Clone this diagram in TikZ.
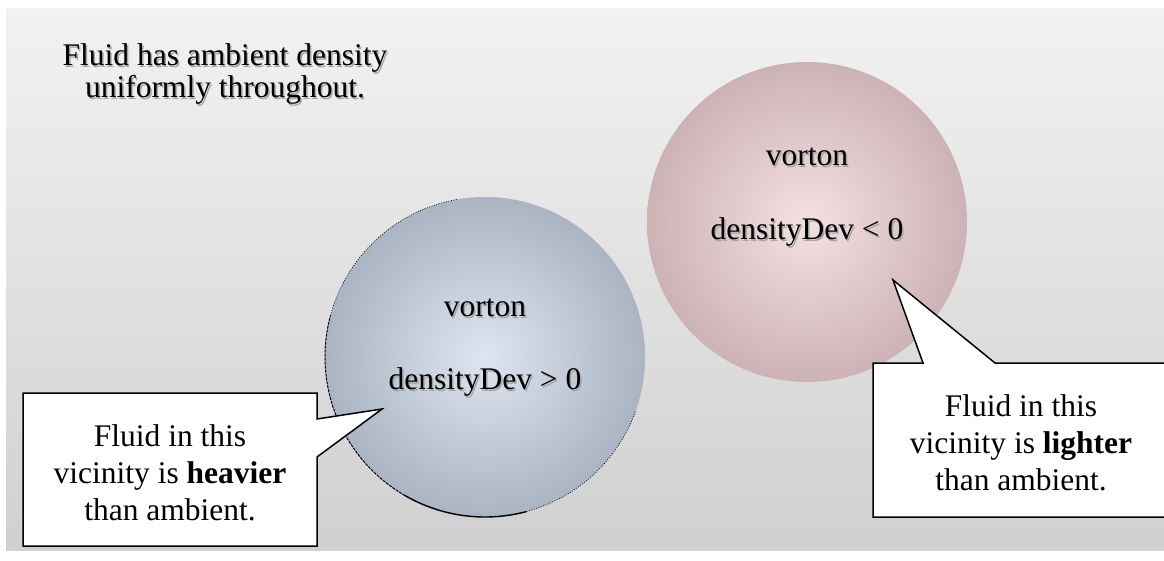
\documentclass[tikz,border=0pt]{standalone}
\usepackage{fontspec}
\setmainfont{LiberationSerif}[Extension=.ttf, UprightFont=*-Regular, BoldFont=*-Bold, ItalicFont=*-Italic, BoldItalicFont=*-BoldItalic]
\definecolor{bgtop}{RGB}{242,242,242}
\definecolor{bgbot}{RGB}{208,208,208}
\definecolor{blueIn}{RGB}{221,229,240}
\definecolor{blueOut}{RGB}{170,180,194}
\definecolor{pinkIn}{RGB}{244,224,226}
\definecolor{pinkOut}{RGB}{204,178,181}
\definecolor{shadowgray}{RGB}{165,165,165}
\begin{document}
\begin{tikzpicture}[x=1pt,y=-1pt,
  txt/.style={font=\fontsize{31.5}{37}\selectfont, inner sep=0pt, align=center},
  ttxt/.style={font=\fontsize{31.5}{32}\selectfont, inner sep=0pt, align=center},
  shadowtxt/.style={txt, text=shadowgray},
  tshadowtxt/.style={ttxt, text=shadowgray},
  vortex/.style={circle, minimum size=320pt, inner sep=0pt},
  callout/.style={draw=black, fill=white, line width=1.5pt, line join=miter}]
\useasboundingbox (0,0) rectangle (1164,560);
\shade[top color=bgtop, bottom color=bgbot] (6,8) rectangle (1164,550);
% title
\node[tshadowtxt] (titles) at (226.5,75.5) {Fluid has ambient density\\uniformly throughout.};
\node[ttxt] (title) at (225,74) {Fluid has ambient density\\uniformly throughout.};
% vortons
\node[vortex, inner color=blueIn, outer color=blueOut] (heavy) at (485,357) {};
\draw[black, line width=1.4pt] (heavy.center) ++(75:160) arc[start angle=75, end angle=120, radius=160];
\draw[black, line width=1pt, dash pattern=on 3pt off 1pt] (heavy.center) ++(120:160) arc[start angle=120, end angle=195, radius=160];
\draw[black, line width=0.6pt, dash pattern=on 1pt off 1.5pt] (heavy.center) ++(195:160) arc[start angle=195, end angle=260, radius=160];
\draw[black, line width=0.6pt, dash pattern=on 1pt off 1.5pt] (heavy.center) ++(20:160) arc[start angle=20, end angle=75, radius=160];
\node[vortex, inner color=pinkIn, outer color=pinkOut] (light) at (807,222) {};
\node[shadowtxt] (hv1s) at (486.5,309.5) {vorton};
\node[txt] (hv1) at (485,308) {vorton};
\node[shadowtxt] (hv2s) at (486.5,383.5) {densityDev > 0};
\node[txt] (hv2) at (485,382) {densityDev > 0};
\node[shadowtxt] (lv1s) at (808.5,158.5) {vorton};
\node[txt] (lv1) at (807,157) {vorton};
\node[shadowtxt] (lv2s) at (808.5,233.5) {densityDev < 0};
\node[txt] (lv2) at (807,232) {densityDev < 0};
% callouts
\coordinate (heavypt) at (382,409);
\coordinate (lightpt) at (893,280);
\draw[callout] (23,393) -- (317,393) -- (317,419) -- (heavypt) -- (317,457) -- (317,546) -- (23,546) -- cycle;
\draw[callout] (873,363) -- (923,363) -- (lightpt) -- (995,363) -- (1169,363) -- (1169,517) -- (873,517) -- cycle;
\node[txt] (heavytext) at (170,473) {Fluid in this\\vicinity is \textbf{heavier}\\than ambient.};
\node[txt] (lighttext) at (1021,443) {Fluid in this\\vicinity is \textbf{lighter}\\than ambient.};
\end{tikzpicture}
\end{document}
